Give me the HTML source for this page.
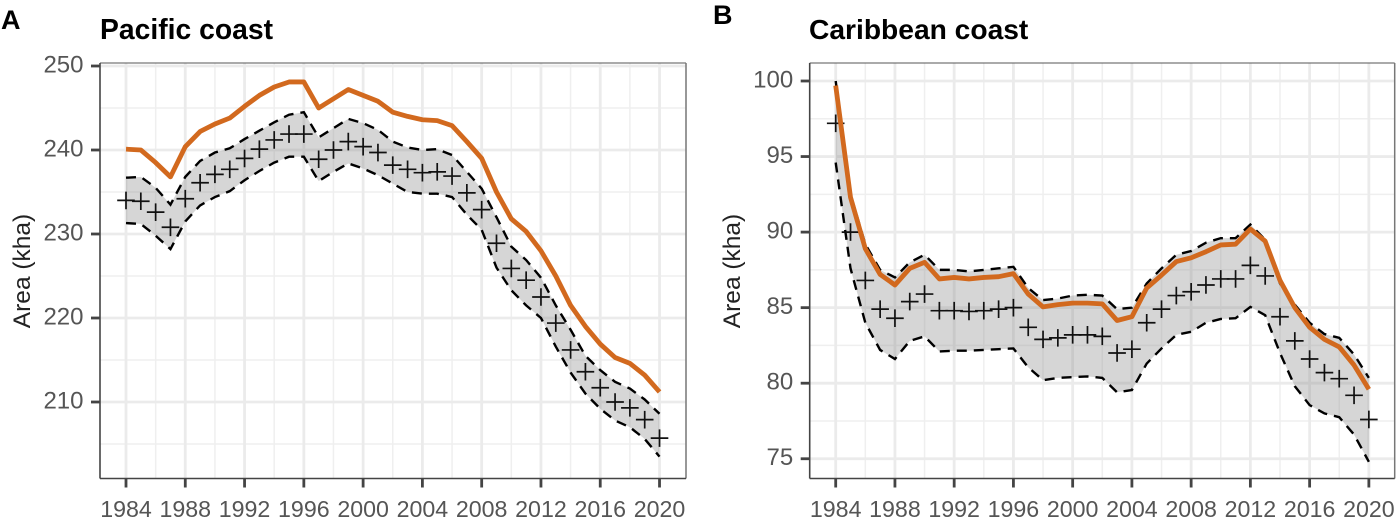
<!DOCTYPE html>
<html lang="en">
<head>
<meta charset="utf-8">
<title>Area by coast</title>
<style>
html,body{margin:0;padding:0;background:#fff;}
body{width:1399px;height:524px;overflow:hidden;}
svg{display:block;font-family:"Liberation Sans",Arial,sans-serif;}
.tick{fill:#555;}
.tick-x{font-size:23.2px;}
.tick-y{font-size:24px;}
</style>
</head>
<body>
<svg id="chart" width="1399" height="524" viewBox="0 0 1399 524" xmlns="http://www.w3.org/2000/svg">
  <rect x="0" y="0" width="1399" height="524" fill="#fff"/>
  <text x="1" y="29" font-size="27" font-weight="bold" fill="#000">A</text>
  <text x="713" y="24" font-size="27" font-weight="bold" fill="#000">B</text>
  <text x="100" y="39" font-size="28.3" font-weight="bold" fill="#000">Pacific coast</text>
  <text x="809" y="39" font-size="28.2" font-weight="bold" fill="#000">Caribbean coast</text>
  <text transform="translate(30,271) rotate(-90)" text-anchor="middle" font-size="24.5" fill="#222">Area (kha)</text>
  <text transform="translate(740,271) rotate(-90)" text-anchor="middle" font-size="24.5" fill="#222">Area (kha)</text>
  <g id="panel-a"></g>
  <g id="panel-b"></g>
</svg>
<script>
const years = [1984,1985,1986,1987,1988,1989,1990,1991,1992,1993,1994,1995,1996,1997,1998,1999,2000,2001,2002,2003,2004,2005,2006,2007,2008,2009,2010,2011,2012,2013,2014,2015,2016,2017,2018,2019,2020];
const xTickLabels = [1984,1988,1992,1996,2000,2004,2008,2012,2016,2020];
const xMinorTicks = [1986,1990,1994,1998,2002,2006,2010,2014,2018];

const pacificOrange = [240.1,240,238.5,236.8,240.4,242.2,243.1,243.8,245.2,246.5,247.5,248.1,248.1,245,246.1,247.2,246.5,245.8,244.5,244,243.6,243.5,242.9,241,239,235,231.8,230.3,228,225,221.5,219,216.9,215.3,214.6,213.2,211.2];
const pacificMean = [234,233.9,232.6,230.8,234.2,236.1,237.1,237.7,239,240.1,241.2,241.9,241.9,238.9,240,241,240.4,239.7,238.2,237.7,237.3,237.4,236.9,234.9,232.9,228.9,225.9,224.5,222.5,219.4,216.2,213.6,211.7,210,209.3,207.9,205.7];
const pacificUpper = [236.7,236.8,235.5,233.5,236.8,238.7,239.7,240.2,241.3,242.3,243.3,244.2,244.5,241.5,242.6,243.7,243.2,242.4,241,240.3,240,240.1,239.4,237.4,235.4,232,228.5,226.9,224.8,221.5,218.6,215.5,213.8,212.4,211.6,210.3,208.6];
const pacificLower = [231.3,231.2,229.8,228.2,231.5,233.4,234.4,235.1,236.4,237.5,238.5,239.2,239.2,236.3,237.4,238.4,237.8,237,236,235,234.8,234.8,234.4,232.3,230.5,226,223.3,221.5,220,216.6,213.5,211,209.2,207.8,207,205.6,203.5];
const pacificYTicks = [210,220,230,240,250];
const pacificYMinor = [205,215,225,235,245];

const caribbeanOrange = [99.7,92.3,88.9,87.2,86.5,87.6,88,86.9,87,86.9,87,87.05,87.25,85.9,85.05,85.2,85.3,85.3,85.25,84.15,84.4,86.3,87.15,88.05,88.3,88.7,89.15,89.2,90.2,89.4,86.8,85,83.7,82.9,82.4,81.2,79.6];
const caribbeanMean = [97.2,90,86.8,84.9,84.3,85.4,85.9,84.8,84.8,84.75,84.8,84.9,85,83.7,82.9,83,83.2,83.2,83.1,82,82.25,84,84.9,85.8,86.05,86.5,86.9,86.9,87.8,87.1,84.4,82.8,81.6,80.7,80.3,79.2,77.6];
const caribbeanUpper = [100,92.5,89.2,87.5,87,88,88.5,87.5,87.5,87.4,87.5,87.6,87.7,86.3,85.5,85.6,85.8,85.85,85.8,84.9,85,86.6,87.6,88.5,88.75,89.3,89.6,89.6,90.5,89.5,86.6,85.2,84,83.25,83,81.9,80.35];
const caribbeanLower = [94.6,87.6,84,82.2,81.6,82.8,83.1,82.1,82.15,82.15,82.2,82.25,82.3,81.05,80.2,80.35,80.4,80.45,80.35,79.4,79.55,81.3,82.3,83.2,83.4,84,84.25,84.3,85.05,84.5,82,79.8,78.55,78,77.75,76.6,74.8];
const caribbeanYTicks = [75,80,85,90,95,100];
const caribbeanYMinor = [77.5,82.5,87.5,92.5,97.5];

const SVG_NS = 'http://www.w3.org/2000/svg';

function make(parent, tag, props) {
  const el = document.createElementNS(SVG_NS, tag);
  for (const k in props) el.setAttribute(k, props[k]);
  parent.appendChild(el);
  return el;
}

function pathFrom(xs, ys, x, y) {
  return xs.map((v, i) => (i ? 'L' : 'M') + x(v).toFixed(2) + ' ' + y(ys[i]).toFixed(2)).join(' ');
}

function drawPanel(root, box, x, y, yTicks, yMinor, orange, mean, upper, lower, prefix) {
  const left = box.left, right = box.right, top = box.top, bottom = box.bottom;

  yMinor.forEach(function (v) {
    const g = make(root, 'line', {x1: left, x2: right, y1: y(v), y2: y(v), stroke: '#efefef', 'stroke-width': 1.5});
    
    
  });
  xMinorTicks.forEach(function (v) {
    const g = make(root, 'line', {x1: x(v), x2: x(v), y1: top, y2: bottom, stroke: '#efefef', 'stroke-width': 1.5});
    
    
  });
  yTicks.forEach(function (v) {
    const g = make(root, 'line', {x1: left, x2: right, y1: y(v), y2: y(v), stroke: '#ebebeb', 'stroke-width': 2.8});
    
    
  });
  xTickLabels.forEach(function (v) {
    const g = make(root, 'line', {x1: x(v), x2: x(v), y1: top, y2: bottom, stroke: '#ebebeb', 'stroke-width': 2.8});
    
    
  });

  const upperPath = pathFrom(years, upper, x, y);
  const lowerRev = years.slice().reverse();
  const lowerVals = lower.slice().reverse();
  const lowerPathBack = pathFrom(lowerRev, lowerVals, x, y).replace('M', 'L');
  const ribbon = make(root, 'path', {d: upperPath + ' ' + lowerPathBack + ' Z', fill: 'rgba(140,140,140,0.36)'});
  
  

  const up = make(root, 'path', {d: upperPath, fill: 'none', stroke: '#000', 'stroke-width': 2.4, 'stroke-dasharray': '10 7'});
  
  

  const lo = make(root, 'path', {d: pathFrom(years, lower, x, y), fill: 'none', stroke: '#000', 'stroke-width': 2.4, 'stroke-dasharray': '10 7'});
  
  

  years.forEach(function (yr, i) {
    const cx = x(yr), cy = y(mean[i]);
    const c = make(root, 'path', {d: 'M' + (cx - 8.8) + ' ' + cy + ' H' + (cx + 8.8) + ' M' + cx + ' ' + (cy - 8.8) + ' V' + (cy + 8.8), stroke: '#111', 'stroke-width': 1.7, fill: 'none'});
    
    
  });

  const o = make(root, 'path', {d: pathFrom(years, orange, x, y), fill: 'none', stroke: '#d2691e', 'stroke-width': 4.8, 'stroke-linejoin': 'round'});
  
  

  const bt = make(root, 'line', {x1: left, x2: right, y1: top, y2: top, stroke: '#555', 'stroke-width': 1});
  
  
  const br = make(root, 'line', {x1: right, x2: right, y1: top, y2: bottom, stroke: '#777', 'stroke-width': 1.5});
  
  
  const ax = make(root, 'line', {x1: left, x2: left, y1: top, y2: bottom, stroke: '#444', 'stroke-width': 1.6});
  
  
  const ay = make(root, 'line', {x1: left, x2: right, y1: bottom, y2: bottom, stroke: '#444', 'stroke-width': 1.6});
  
  

  yTicks.forEach(function (v) {
    const t = make(root, 'line', {x1: left - 9, x2: left, y1: y(v), y2: y(v), stroke: '#444', 'stroke-width': 2.8});
    
    
    const l = make(root, 'text', {x: left - 16.5, y: y(v) + 6.3, 'text-anchor': 'end', class: 'tick tick-y'});
    
    
    l.textContent = v;
  });
  xTickLabels.forEach(function (v) {
    const t = make(root, 'line', {x1: x(v), x2: x(v), y1: bottom, y2: bottom + 9, stroke: '#444', 'stroke-width': 2.8});
    
    
    const l = make(root, 'text', {x: x(v), y: 517, 'text-anchor': 'middle', class: 'tick tick-x'});
    
    
    l.textContent = v;
  });
}

function xScaleA(v) { return 126 + (v - 1984) * 14.82; }
function yScaleA(v) { return 66 + (250 - v) * 8.4; }
function xScaleB(v) { return 835.7 + (v - 1984) * 14.81; }
function yScaleB(v) { return 81 + (100 - v) * 15.11; }

drawPanel(document.getElementById('panel-a'), {left: 100, right: 686, top: 63, bottom: 478.5}, xScaleA, yScaleA, pacificYTicks, pacificYMinor, pacificOrange, pacificMean, pacificUpper, pacificLower, 'pacific');
drawPanel(document.getElementById('panel-b'), {left: 809.7, right: 1394.7, top: 63, bottom: 478.5}, xScaleB, yScaleB, caribbeanYTicks, caribbeanYMinor, caribbeanOrange, caribbeanMean, caribbeanUpper, caribbeanLower, 'caribbean');
</script>
</body>
</html>
